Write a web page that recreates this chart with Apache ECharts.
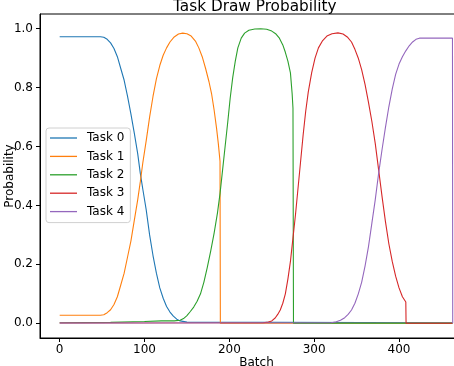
<!DOCTYPE html>
<html>
<head>
<meta charset="utf-8">
<script src="https://cdn.jsdelivr.net/npm/echarts@6/dist/echarts.min.js"></script>
<style>html,body{margin:0;padding:0;background:#fff;}#chart{width:454px;height:366px;}</style>
</head>
<body>
<div id="chart"></div>
<script>
const taskNames = ['Task 0', 'Task 1', 'Task 2', 'Task 3', 'Task 4'];
const xTicks = [0, 100, 200, 300, 400];
const yTicks = [0, 0.2, 0.4, 0.6, 0.8, 1.0];

const task0 = [[0,0.973],[48,0.973],[52,0.971],[56,0.964],[60,0.952],[64,0.933],[68,0.905],[72,0.865],[76,0.825],[80,0.77],[84,0.71],[88,0.645],[92,0.575],[95,0.51],[98,0.455],[102,0.385],[106,0.30],[110,0.23],[114,0.17],[118,0.12],[122,0.085],[126,0.057],[130,0.038],[134,0.024],[138,0.014],[142,0.008],[150,0.004],[463,0.002]];
const task1 = [[0,0.027],[48,0.027],[52,0.029],[56,0.036],[60,0.046],[64,0.064],[68,0.09],[72,0.13],[76,0.17],[80,0.225],[84,0.28],[88,0.35],[92,0.42],[95,0.48],[98,0.545],[102,0.62],[106,0.70],[110,0.77],[114,0.83],[118,0.875],[122,0.91],[126,0.935],[130,0.955],[135,0.972],[140,0.982],[145,0.985],[150,0.983],[155,0.975],[160,0.958],[164,0.935],[168,0.905],[172,0.865],[176,0.82],[179,0.78],[182,0.725],[185,0.66],[187,0.61],[189,0.55],[189.4,0],[463,0]];
const task2 = [[0,0.002],[60,0.003],[100,0.006],[120,0.008],[135,0.008],[142,0.01],[146,0.016],[150,0.026],[154,0.04],[158,0.055],[162,0.075],[166,0.10],[170,0.14],[174,0.19],[178,0.245],[182,0.305],[186,0.375],[189,0.44],[192,0.52],[195,0.60],[198,0.68],[201,0.765],[204,0.835],[207,0.89],[210,0.935],[214,0.968],[218,0.985],[223,0.995],[230,0.999],[237,1.0],[244,0.998],[250,0.992],[255,0.982],[259,0.968],[263,0.945],[266,0.92],[269,0.89],[272,0.85],[274,0.78],[275,0.73],[275.6,0],[463,0]];
const task3 = [[0,0.001],[240,0.002],[246,0.004],[250,0.008],[254,0.018],[257,0.03],[260,0.045],[263,0.068],[266,0.1],[269,0.15],[272,0.21],[275,0.29],[278,0.37],[281,0.46],[284,0.55],[287,0.64],[290,0.72],[293,0.785],[297,0.85],[301,0.90],[305,0.935],[310,0.96],[315,0.975],[321,0.983],[328,0.986],[334,0.982],[339,0.972],[344,0.955],[348,0.93],[352,0.9],[356,0.86],[360,0.81],[364,0.75],[368,0.685],[372,0.61],[376,0.52],[380,0.43],[384,0.345],[388,0.27],[392,0.21],[396,0.16],[400,0.12],[404,0.09],[408,0.072],[408.3,0],[463,0]];
const task4 = [[0,0.001],[320,0.002],[326,0.005],[331,0.01],[336,0.019],[340,0.03],[344,0.045],[348,0.068],[352,0.10],[356,0.14],[360,0.195],[364,0.26],[368,0.34],[372,0.42],[376,0.51],[380,0.59],[384,0.665],[388,0.735],[392,0.795],[396,0.845],[400,0.88],[404,0.905],[408,0.925],[412,0.942],[416,0.955],[420,0.964],[424,0.968],[463,0.968],[463.3,0]];

const seriesData = [task0, task1, task2, task3, task4];
const colors = ['#1f77b4', '#ff7f0e', '#2ca02c', '#d62728', '#9467bd'];

const chart = echarts.init(document.getElementById('chart'), null, {renderer: 'canvas'});
const font = 'DejaVu Sans';
chart.setOption({
  animation: false,
  backgroundColor: '#fff',
  color: colors,
  title: {
    text: 'Task Draw Probability',
    left: 173, top: 0, padding: 0,
    textStyle: {fontFamily: font, fontSize: 15.3, fontWeight: 'normal', color: '#000'}
  },
  grid: {left: 40, right: -19, top: 14, bottom: 28, containLabel: false, outerBoundsMode: 'none', show: true, borderColor: '#000', borderWidth: 1, backgroundColor: 'transparent'},
  legend: {
    orient: 'vertical', left: 46, top: 128,
    data: taskNames,
    icon: 'rect', itemWidth: 27, itemHeight: 1.3, itemGap: 4.4,
    padding: [3, 6, 4, 4],
    backgroundColor: 'rgba(255,255,255,0.8)', borderColor: '#d0d0d0', borderWidth: 1, borderRadius: 3,
    textStyle: {fontFamily: font, fontSize: 12, color: '#000', lineHeight: 14, padding: [0, 0, 0, 5]}
  },
  xAxis: {
    type: 'value', min: -23.2, max: 487.2,
    name: 'Batch', nameLocation: 'middle', nameGap: 19, nameMoveOverlap: false,
    nameTextStyle: {fontFamily: font, fontSize: 12, color: '#000'},
    axisLine: {show: true, onZero: false, lineStyle: {color: '#000', width: 1}},
    axisTick: {show: true, length: 4, customValues: xTicks, lineStyle: {color: '#000'}},
    axisLabel: {customValues: xTicks, fontFamily: font, fontSize: 12, color: '#000', margin: 6},
    splitLine: {show: false}
  },
  yAxis: {
    type: 'value', min: -0.05, max: 1.05,
    name: 'Probability', nameLocation: 'middle', nameGap: 24, nameRotate: 90, nameMoveOverlap: false,
    nameTextStyle: {fontFamily: font, fontSize: 12, color: '#000'},
    axisLine: {show: true, onZero: false, lineStyle: {color: '#000', width: 1}},
    axisTick: {show: true, length: 4, customValues: yTicks, lineStyle: {color: '#000'}},
    axisLabel: {customValues: yTicks, fontFamily: font, fontSize: 12, color: '#000', margin: 7, formatter: v => v.toFixed(1)},
    splitLine: {show: false}
  },
  series: taskNames.map((name, i) => ({
    name: name, type: 'line', data: seriesData[i],
    showSymbol: false, symbol: 'none', clip: true,
    lineStyle: {width: 1.1, color: colors[i]},
    itemStyle: {color: colors[i]},
    z: 2 + i
  }))
});
</script>
</body>
</html>
